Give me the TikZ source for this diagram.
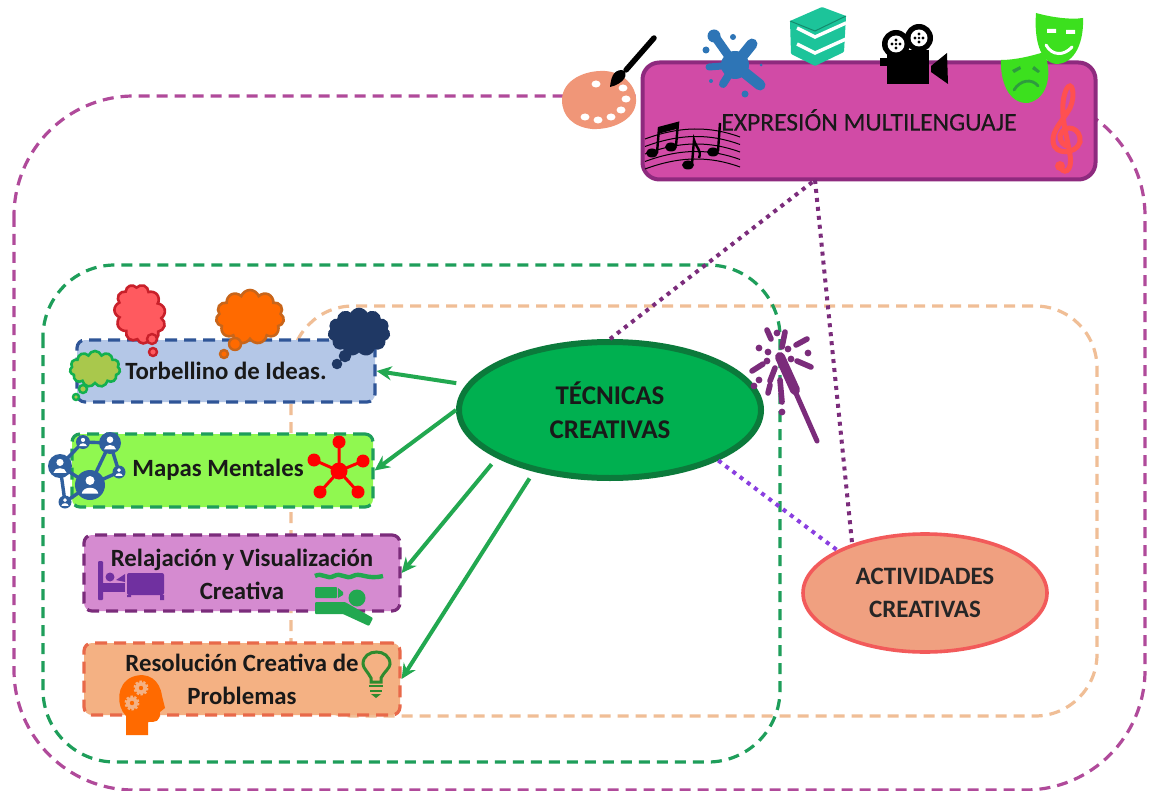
\documentclass[tikz,border=0pt]{standalone}
\usepackage{fontspec}
\setmainfont{Carlito}
\newfontfamily\semibold[FakeBold=0.25]{Carlito}
\usetikzlibrary{shapes.geometric,shapes.symbols,arrows.meta}
\definecolor{cMag}{HTML}{B04A9A}
\definecolor{cGrn}{HTML}{1E9E5A}
\definecolor{cOra}{HTML}{F0BE96}
\definecolor{cArrow}{HTML}{22A850}
\definecolor{cPlum}{HTML}{7B2C7B}
\definecolor{cViolet}{HTML}{8A3FE0}
\definecolor{cNet}{HTML}{2F5F9E}
\definecolor{cTeal}{HTML}{1CC49A}
\definecolor{cMask}{HTML}{3CE01E}
\definecolor{cExp}{HTML}{D14BA6}
\definecolor{cExpB}{HTML}{8E2A7E}
\definecolor{cTorbB}{HTML}{2F5597}
\definecolor{cTorb}{HTML}{B4C7E7}
\definecolor{cMapa}{HTML}{90F850}
\definecolor{cRel}{HTML}{D58BD0}
\definecolor{cResB}{HTML}{E8694A}
\definecolor{cRes}{HTML}{F4B183}
\definecolor{cTecB}{HTML}{0B7A3B}
\definecolor{cTec}{HTML}{00B050}
\definecolor{cActB}{HTML}{F25A5A}
\definecolor{cAct}{HTML}{F0A080}
\definecolor{cRedC}{HTML}{FF5A5F}
\definecolor{cRedB}{HTML}{C8202A}
\definecolor{cOrC}{HTML}{FF6A00}
\definecolor{cOrB}{HTML}{C8651A}
\definecolor{cNavy}{HTML}{1F3864}
\definecolor{cGrC}{HTML}{A9C84C}
\definecolor{cGrB}{HTML}{12B04F}
\definecolor{cBed}{HTML}{7030A0}
\definecolor{cBulb}{HTML}{2E8B2E}
\definecolor{cGear}{HTML}{F4B183}
\definecolor{cPal}{HTML}{F09678}
\definecolor{cSplat}{HTML}{2E75B6}
\definecolor{cSad}{HTML}{2E9B3E}
\definecolor{cClef}{HTML}{FF5050}
\tikzset{
  frame/.style={line width=3.2pt,dash pattern=on 11pt off 7pt},
  tbox/.style={rounded corners=8pt,line width=3.2pt,dash pattern=on 12pt off 7pt,inner sep=0pt},
  label/.style={font=\fontsize{24.8}{33}\selectfont\bfseries,text=black!90,align=center},
  link/.style={line width=4pt,cArrow,-{Stealth[length=15pt,width=14pt]}},
  dots/.style={line width=4pt,dash pattern=on 4pt off 5pt},
  thought/.style={cloud,cloud puffs=11,cloud puff arc=140,inner sep=0pt,line width=2.6pt},
  spark/.style={line width=5.6pt,line cap=round,cPlum},
}
\newcommand{\netnode}[3]{\fill[cNet] (#1,#2) circle (#3);
  \fill[white] (#1,#2-0.3*#3) circle (0.3*#3);
  \fill[white] (#1-0.55*#3,#2+0.58*#3) .. controls (#1-0.5*#3,#2+0.05*#3) and (#1+0.5*#3,#2+0.05*#3) .. (#1+0.55*#3,#2+0.58*#3) -- cycle;}
\newcommand{\bubble}[5]{\draw[fill=#4,draw=#5,line width=2.4pt] (#1,#2) circle (#3);}
\begin{document}
\begin{tikzpicture}[x=1pt,y=-1pt]
\useasboundingbox (0,0) rectangle (1155,791);
\fill[white] (0,0) rectangle (1155,791);
% frames
\draw[frame,cMag,rounded corners=120pt] (14,96) rectangle (1145,790);
\draw[frame,cOra,rounded corners=62pt] (291,306) rectangle (1097,716);
\draw[frame,cGrn,rounded corners=72pt] (43,265) rectangle (780,762);
% main boxes
\node[draw=cExpB,fill=cExp,rounded corners=17pt,line width=4pt,minimum width=453pt,minimum height=117pt,inner sep=0pt] (exp) at (869,121) {};
\node[font=\fontsize{25.5}{28}\selectfont\semibold,text=black!90] (exptext) at (869,120) {EXPRESIÓN MULTILENGUAJE};
\node[tbox,draw=cTorbB,fill=cTorb,minimum width=298pt,minimum height=62pt] (torb) at (226,371) {};
\node[tbox,draw=cGrn,fill=cMapa,minimum width=301pt,minimum height=73pt] (mapas) at (222.5,470.5) {};
\node[tbox,draw=cPlum,fill=cRel,minimum width=316pt,minimum height=76pt] (rel) at (242,573) {};
\node[tbox,draw=cResB,fill=cRes,minimum width=316pt,minimum height=72pt] (res) at (242,679) {};
\node[ellipse,draw=cTecB,fill=cTec,line width=6pt,minimum width=302pt,minimum height=136pt,inner sep=0pt,align=center,font=\fontsize{27}{34}\selectfont\bfseries,text=black!90] (tec) at (610,410) {TÉCNICAS\\CREATIVAS};
\node[ellipse,draw=cActB,fill=cAct,line width=3.6pt,minimum width=244pt,minimum height=118pt,inner sep=0pt,align=center,font=\fontsize{25}{33}\selectfont\bfseries,text=black!85] (act) at (925,593) {ACTIVIDADES\\CREATIVAS};
% connectors
\coordinate (expb) at (815,180);
\draw[link,shorten <=10pt] (tec.170) -- (torb.east);
\draw[link] (tec.180) -- (mapas.east);
\draw[link,shorten <=8pt] (tec.203) -- (rel.east);
\draw[link,shorten <=8pt] (tec.219) -- (res.east);
\draw[dots,cPlum] (tec.90) -- (expb);
\draw[dots,cPlum] (expb) -- (act.146);
\draw[dots,cViolet] (tec.-25) -- (act.154);
% text in boxes
\node[label] (t1) at (226,371) {Torbellino de Ideas.};
\node[label] (t2) at (218,470) {Mapas Mentales};
\node[label] (t3) at (242,574) {Relajación y Visualización\\Creativa};
\node[label] (t4) at (242,679) {Resolución Creativa de\\Problemas};
% thought clouds
\node[thought,draw=cRedB,fill=cRedC,minimum width=50pt,minimum height=60pt,rotate=20] (c1) at (140,314) {};
\bubble{152}{339}{5}{cRedC}{cRedB}
\bubble{153}{352}{4}{cRedC}{cRedB}
\node[thought,draw=cOrB,fill=cOrC,minimum width=68pt,minimum height=54pt] (c2) at (250,317) {};
\bubble{235}{344}{6}{cOrC}{cOrB}
\bubble{224}{354}{4}{cOrC}{cOrB}
\node[thought,draw=cNavy,fill=cNavy,minimum width=60pt,minimum height=46pt] (c3) at (359,332) {};
\bubble{345}{356}{5}{cNavy}{cNavy}
\bubble{337}{364}{4}{cNavy}{cNavy}
\node[thought,draw=cGrB,fill=cGrC,minimum width=50pt,minimum height=36pt] (c4) at (95,369) {};
\bubble{83}{389}{4}{cGrC}{cGrB}
\bubble{76}{397}{3}{cGrC}{cGrB}
% network icon
\draw[cNet,line width=3.4pt] (60,466)--(83,442)--(110,443)--(119,472)--(90,485)--(60,466)--(65,502)--(90,485)
  (110,443)--(90,485);
\netnode{60}{466}{12}\netnode{110}{443}{11}\netnode{90}{485}{15}\netnode{65}{502}{6.5}\netnode{83}{442}{7}\netnode{119}{472}{6.5}
% red star
\draw[red,line width=3pt] (339,471)--(339,442) (339,471)--(314,460) (339,471)--(363,461) (339,471)--(320,492) (339,471)--(358,492);
\fill[red] (339,471) circle (8.5) (339,442) circle (6.5) (314,460) circle (6.5) (363,461) circle (6.5) (320,492) circle (6.5) (358,492) circle (6.5);
% bed
\fill[cBed,rounded corners=1pt] (98,561) rectangle (103,600);
\fill[cBed,rounded corners=2pt] (127,573) rectangle (164,595);
\fill[cBed] (160,595) rectangle (164,600) (127,595) rectangle (131,597);
\fill[cBed] (103,583) rectangle (125,592);
\fill[cBed] (110,577) circle (4.5);
\fill[cBed] (116,580) -- (125,574) -- (125,582) -- cycle;
% snorkeler
\draw[cArrow,line width=4.4pt] (315,576) .. controls (322,572) and (327,580) .. (334,576) .. controls (341,572) and (346,580) .. (353,576) .. controls (360,572) and (367,580) .. (383,576);
\fill[cArrow,rounded corners=1pt] (315,587) rectangle (337,598);
\fill[cArrow] (338,588) -- (343,592) -- (343,595) -- (338,598) -- cycle;
\fill[cArrow] (357,598) circle (8.5);
\fill[cArrow,rounded corners=1pt] (315,602) -- (345,602) -- (373,618) -- (369,626) -- (343,614) -- (315,614) -- cycle;
% bulb
\draw[cBulb,line width=3pt] (371,682) -- (371,678) .. controls (368,672) and (363,668) .. (363,664) .. controls (363,648) and (390,648) .. (390,664) .. controls (390,668) and (384,672) .. (381,678) -- (381,682) -- cycle;
\draw[cBulb,line width=2.6pt] (369,686) -- (383,686) (370,691) -- (382,691);
\fill[cBulb] (371,694) -- (381,694) -- (376,698) -- cycle;
% head
\fill[cOrC] (126,735) -- (126,716) .. controls (116,706) and (116,684) .. (132,677) .. controls (148,671) and (160,680) .. (162,696) -- (165,708) -- (160,712) .. controls (160,722) and (156,722) .. (148,722) -- (148,735) -- cycle;
\foreach \a/\b in {141/688,132/703}{
  \draw[cGear,line width=3pt,dash pattern=on 2.2pt off 1.6pt] (\a,\b) circle (6);
  \fill[cGear] (\a,\b) circle (6);
  \fill[cOrC] (\a,\b) circle (2.2);}
% wand
\draw[cPlum,line width=5pt,line cap=round] (780,357) -- (817,441);
\draw[cPlum,line width=10pt,line cap=round] (780,357) -- (795,390);
\draw[spark] (767,330)--(771,339) (785,332)--(782,347) (807,339)--(796,345) (797,361)--(811,367)
 (752,371)--(763,364) (775,368)--(770,381) (770,385)--(768,393) (780,380)--(782,402);
\foreach \a/\b in {777/333,808/353,791/359,788/349,759/348,768/352,767/361,759/380,754/386,782/412}{\fill[cPlum] (\a,\b) circle (3.4);}
% palette
\fill[cPal] (562,100) .. controls (562,80) and (585,70) .. (605,71) .. controls (622,72) and (637,85) .. (636,102) .. controls (635,120) and (612,130) .. (592,129) .. controls (573,127) and (562,116) .. (562,100) -- cycle;
\foreach \a/\b in {585/117,598/120,611/117,621/110,626/99,623/88,596/84}{\fill[white] (\a,\b) ellipse (4.5 and 3.5);}
\draw[black,line width=5.5pt,line cap=round] (654,38) -- (626,70);
\fill[black] (622,70) .. controls (630,73) and (624,84) .. (610,87) .. controls (611,78) and (613,70) .. (622,70) -- cycle;
% splash
\fill[cSplat] (735,65) circle (14);
\draw[cSplat,line cap=round,line width=9pt] (735,65) -- (716,38);
\draw[cSplat,line cap=round,line width=11pt] (735,65) -- (752,44);
\draw[cSplat,line cap=round,line width=11pt] (735,65) -- (760,85);
\draw[cSplat,line cap=round,line width=7pt] (735,65) -- (709,67);
\draw[cSplat,line cap=round,line width=8pt] (735,65) -- (723,84);
\fill[cSplat] (714,36) circle (6.5) (706,50) circle (3.5) (733,37) circle (3) (745,94) circle (3.5) (711,81) circle (2) (761,65) circle (1.5);
% books
\fill[cTeal,rounded corners=1pt] (790,21) -- (822,7) -- (846,16) -- (844,52) -- (815,66) -- (791,54) -- cycle;
\draw[white,line width=3.4pt] (797,28) -- (815,37) -- (846,23);
\draw[cTeal!70!black,line width=1pt] (790,21) -- (815,31) -- (846,16);
\draw[white,line width=3.4pt] (797,44) -- (815,53) -- (846,39);
% camera
\fill[black] (887,50) -- (929,50) -- (929,84) -- (887,84) -- cycle;
\fill[black] (880,58) rectangle (888,66);
\fill[black] (931,66) -- (947,53) -- (948,84) -- (931,72) -- cycle;
\foreach \a/\b in {896/44,919/38}{\fill[black] (\a,\b) circle (14);\fill[white] (\a,\b) circle (8.5);
  \fill[black] (\a,\b) circle (1.4) (\a+4,\b) circle (1.7) (\a-4,\b) circle (1.7) (\a,\b+4) circle (1.7) (\a,\b-4) circle (1.7);}
% masks
\fill[cMask] (1036,13) .. controls (1050,17) and (1070,20) .. (1083,18) .. controls (1084,40) and (1076,64) .. (1056,64) .. controls (1040,62) and (1034,40) .. (1036,13) -- cycle;
\fill[white] (1047,29) rectangle (1056,33) (1066,30) rectangle (1075,34);
\draw[white,line width=3pt,line cap=round] (1046,45) .. controls (1052,56) and (1064,56) .. (1072,47);
\fill[cMask] (1001,60) .. controls (1015,60) and (1032,56) .. (1044,52) .. controls (1052,70) and (1050,98) .. (1028,103) .. controls (1008,104) and (1000,80) .. (1001,60) -- cycle;
\fill[cSad] (1012,70) -- (1020,66) -- (1021,69) -- (1014,73) -- cycle (1034,66) -- (1040,71) -- (1038,73) -- (1032,69) -- cycle;
\draw[cSad,line width=2.8pt,line cap=round] (1014,90) .. controls (1020,80) and (1032,78) .. (1038,86);
% clef
\draw[cClef,line width=5pt,line cap=round] (1059,165) .. controls (1063,176) and (1073,172) .. (1070,155) .. controls (1067,135) and (1058,110) .. (1066,90) .. controls (1072,78) and (1076,95) .. (1070,108) .. controls (1062,122) and (1052,130) .. (1053,142) .. controls (1054,155) and (1076,155) .. (1080,142) .. controls (1082,128) and (1064,122) .. (1060,136) .. controls (1060,142) and (1064,146) .. (1068,146);
\fill[cClef] (1060,166) circle (5);
% music
\foreach \d in {0,7.5,15,22.5,30}{\draw[black,line width=1pt] (645,139+\d) .. controls (680,126+\d) and (710,126+\d) .. (740,137+\d);}
\draw[black,line width=2.4pt] (657,153) -- (659,128) -- (678,123) -- (676,146);
\draw[black,line width=5pt] (659,131) -- (678,126);
\draw[black,line width=2.4pt] (718,151) -- (720,123);
\draw[black,line width=2.4pt] (692,164) -- (694,140) .. controls (696,148) and (702,150) .. (699,158);
\fill[black] (652,153) ellipse (6 and 4.5) (671,147) ellipse (6 and 4.5) (688,165) ellipse (6 and 4.5) (713,152) ellipse (6 and 4.5);
\end{tikzpicture}
\end{document}
